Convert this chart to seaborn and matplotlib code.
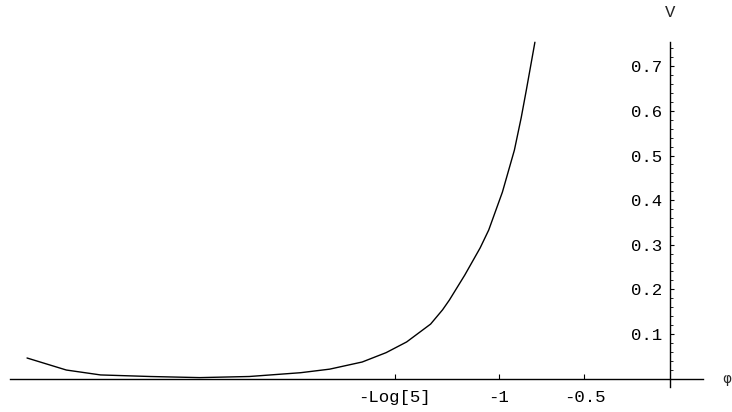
"""Potential V(phi) drawn Mathematica-style with axes through the origin."""

import matplotlib

matplotlib.use("Agg")
import matplotlib.pyplot as plt
import numpy as np
import pandas as pd
import seaborn as sns

# values
phi = [-3.76, -3.53, -3.33, -3.04, -2.75, -2.46, -2.16, -1.99, -1.80, -1.66,
       -1.54, -1.40, -1.33, -1.29, -1.20, -1.11, -1.06, -0.98, -0.91, -0.87,
       -0.84, -0.79]
v = [0.046, 0.019, 0.008, 0.0045, 0.002, 0.0045, 0.013, 0.021, 0.037, 0.058,
     0.082, 0.122, 0.154, 0.176, 0.232, 0.293, 0.333, 0.418, 0.512, 0.585,
     0.647, 0.754]

x_ticks = [-np.log(5), -1.0, -0.5]
x_tick_labels = ["-Log[5]", "-1", "-0.5"]
y_ticks = [0.1, 0.2, 0.3, 0.4, 0.5, 0.6, 0.7]
y_tick_labels = ["0.1", "0.2", "0.3", "0.4", "0.5", "0.6", "0.7"]

sns.set_style("white")
plt.rcParams["font.family"] = ["Liberation Mono", "DejaVu Sans Mono"]

df = pd.DataFrame({"phi": phi, "V": v})

fig = plt.figure(figsize=(7.32, 4.12), dpi=100)
ax = fig.add_axes([0, 0, 1, 1])
sns.lineplot(data=df, x="phi", y="V", sort=False, estimator=None,
             color="black", linewidth=1.0, ax=ax)

ax.set_xlim(-3.918, 0.3626)
ax.set_ylim(-0.0751, 0.8487)

for side in ("top", "right"):
    ax.spines[side].set_visible(False)
ax.spines["left"].set_position(("data", 0))
ax.spines["bottom"].set_position(("data", 0))
ax.spines["left"].set_bounds(-0.019, 0.755)
ax.spines["bottom"].set_bounds(-3.86, 0.193)
for side in ("left", "bottom"):
    ax.spines[side].set_color("black")
    ax.spines[side].set_linewidth(1.0)

ax.set_xticks(x_ticks, x_tick_labels)
ax.set_yticks(y_ticks, y_tick_labels)
ax.set_yticks(np.arange(0.02, 0.75, 0.02), minor=True)
ax.tick_params(axis="x", which="major", bottom=True, direction="in",
               length=3.5, width=0.8, labelsize=12.5, pad=8, colors="black")
ax.tick_params(axis="y", which="major", left=True, direction="in",
               length=3, width=0.8, labelsize=12.5, pad=6, colors="black")
ax.tick_params(axis="y", which="minor", left=True, direction="in",
               length=1.8, width=0.6, colors="black")
ax.tick_params(axis="x", which="minor", bottom=False, length=0)

ax.set_xlabel("")
ax.set_ylabel("")
ax.text(0, 0.82, "V", ha="center", va="center", fontsize=12.5)
ax.text(0.333, 0.0, "φ", ha="center", va="center", fontsize=10,
        family=["DejaVu Sans"])

fig.savefig("out.png", dpi=100)
